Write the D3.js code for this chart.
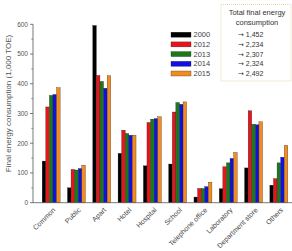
<!DOCTYPE html>
<html>
<head>
<meta charset="utf-8">
<script src="https://cdn.jsdelivr.net/npm/d3@7"></script>
<style>
  body { margin: 0; background: #fff; }
  svg text { font-family: "Liberation Sans", Arial, sans-serif; }
</style>
</head>
<body>
<div id="chart"></div>
<script>
const categories = ["Common", "Public", "Apart", "Hotel", "Hospital", "School",
    "Telephone office", "Laboratory", "Department store", "Others"];
const years = ["2000", "2012", "2013", "2014", "2015"];
const totals = ["1,452", "2,234", "2,307", "2,324", "2,492"];

const v2000 = [140, 50, 596, 166, 124, 130, 19, 47, 117, 59];
const v2012 = [322, 112, 428, 244, 270, 305, 48, 121, 309, 81];
const v2013 = [361, 110, 408, 233, 281, 337, 48, 134, 264, 134];
const v2014 = [364, 115, 385, 227, 283, 331, 54, 149, 262, 153];
const v2015 = [387, 126, 427, 227, 289, 339, 69, 169, 272, 193];
const yTicks = [0, 100, 200, 300, 400, 500, 600];

const seriesValues = [v2000, v2012, v2013, v2014, v2015];
const colors = ["#000000", "#e8131b", "#1a7a1a", "#1010e0", "#f28c1e"];

const width = 292, height = 251;

const svg = d3.select("#chart")
    .append("svg")
    .attr("width", width)
    .attr("height", height);

const x = d3.scaleBand()
    .domain(categories)
    .range([38.5, 291.5])
    .paddingInner(0.29)
    .paddingOuter(0.145);

const xSub = d3.scaleBand()
    .domain(years)
    .range([0, x.bandwidth()]);

const y = d3.scaleLinear()
    .domain([0, 600])
    .range([202.7, 24.3]);

// bars
const rows = categories.map((c, i) => ({ cat: c, vals: seriesValues.map(s => s[i]) }));

svg.append("g")
    .selectAll("g")
    .data(rows)
    .join("g")
    .attr("transform", d => `translate(${x(d.cat)},0)`)
    .selectAll("rect")
    .data(d => d.vals.map((v, j) => ({ year: years[j], v, color: colors[j] })))
    .join("rect")
    .attr("x", d => xSub(d.year))
    .attr("y", d => y(d.v))
    .attr("width", xSub.bandwidth())
    .attr("height", d => y(0) - y(d.v))
    .attr("fill", d => d.color)
    .attr("stroke", "#222")
    .attr("stroke-width", 0.3);

// y axis
const axisColor = "#555";
const yAxis = svg.append("g").attr("transform", "translate(33,0)");
yAxis.append("line")
    .attr("y1", y(0)).attr("y2", y(600))
    .attr("stroke", axisColor).attr("stroke-width", 0.8);
yAxis.selectAll(".major")
    .data(yTicks)
    .join("line")
    .attr("x1", -3).attr("x2", 0)
    .attr("y1", d => y(d)).attr("y2", d => y(d))
    .attr("stroke", axisColor).attr("stroke-width", 0.8);
yAxis.selectAll(".minor")
    .data(yTicks.slice(0, -1).map(d => d + 50))
    .join("line")
    .attr("x1", -1.8).attr("x2", 0)
    .attr("y1", d => y(d)).attr("y2", d => y(d))
    .attr("stroke", axisColor).attr("stroke-width", 0.6);
yAxis.selectAll("text")
    .data(yTicks)
    .join("text")
    .attr("x", -5)
    .attr("y", d => y(d))
    .attr("dy", "0.35em")
    .attr("text-anchor", "end")
    .attr("font-size", 6.5)
    .attr("fill", axisColor)
    .text(d => d);

svg.append("text")
    .attr("transform", `translate(10.5,${(y(0) + y(600)) / 2 - 10}) rotate(-90)`)
    .attr("text-anchor", "middle")
    .attr("font-size", 8)
    .attr("fill", "#555")
    .text("Final energy consumption (1,000 TOE)");

// x axis
svg.append("line")
    .attr("x1", 33).attr("x2", 292)
    .attr("y1", y(0)).attr("y2", y(0))
    .attr("stroke", axisColor).attr("stroke-width", 0.8);

svg.append("g")
    .selectAll("text")
    .data(categories)
    .join("text")
    .attr("transform", d => `translate(${x(d) + x.bandwidth() / 2 + 3},${y(0) + 6}) rotate(-45)`)
    .attr("text-anchor", "end")
    .attr("dy", "0.35em")
    .attr("font-size", 7)
    .attr("fill", "#444")
    .text(d => d);

// legend
const legend = svg.append("g");
const rowY = i => 34.7 + i * 9.7;

years.forEach((yr, i) => {
    legend.append("rect")
        .attr("x", 171)
        .attr("y", rowY(i) - 2.5)
        .attr("width", 20)
        .attr("height", 5)
        .attr("fill", colors[i])
        .attr("stroke", "#222")
        .attr("stroke-width", 0.3);
    legend.append("text")
        .attr("x", 193.5)
        .attr("y", rowY(i))
        .attr("dy", "0.35em")
        .attr("font-size", 7.5)
        .attr("fill", "#444")
        .text(yr);
});

legend.append("rect")
    .attr("x", 221)
    .attr("y", 4.5)
    .attr("width", 70)
    .attr("height", 76.5)
    .attr("fill", "none")
    .attr("stroke", "#e6d9a6")
    .attr("stroke-width", 1)
    .attr("stroke-dasharray", "1,1");

legend.append("text")
    .attr("x", 257)
    .attr("y", 15)
    .attr("text-anchor", "middle")
    .attr("font-size", 7.5)
    .attr("fill", "#333")
    .text("Total final energy");
legend.append("text")
    .attr("x", 257)
    .attr("y", 25)
    .attr("text-anchor", "middle")
    .attr("font-size", 7.5)
    .attr("fill", "#333")
    .text("consumption");

totals.forEach((t, i) => {
    const txt = legend.append("text")
        .attr("x", 238)
        .attr("y", rowY(i))
        .attr("dy", "0.35em")
        .attr("font-size", 7)
        .attr("fill", "#333");
    txt.append("tspan")
        .style("font-family", "'DejaVu Sans', sans-serif")
        .attr("font-size", 7)
        .text("\u2192");
    txt.append("tspan")
        .text(" " + t);
});
</script>
</body>
</html>
